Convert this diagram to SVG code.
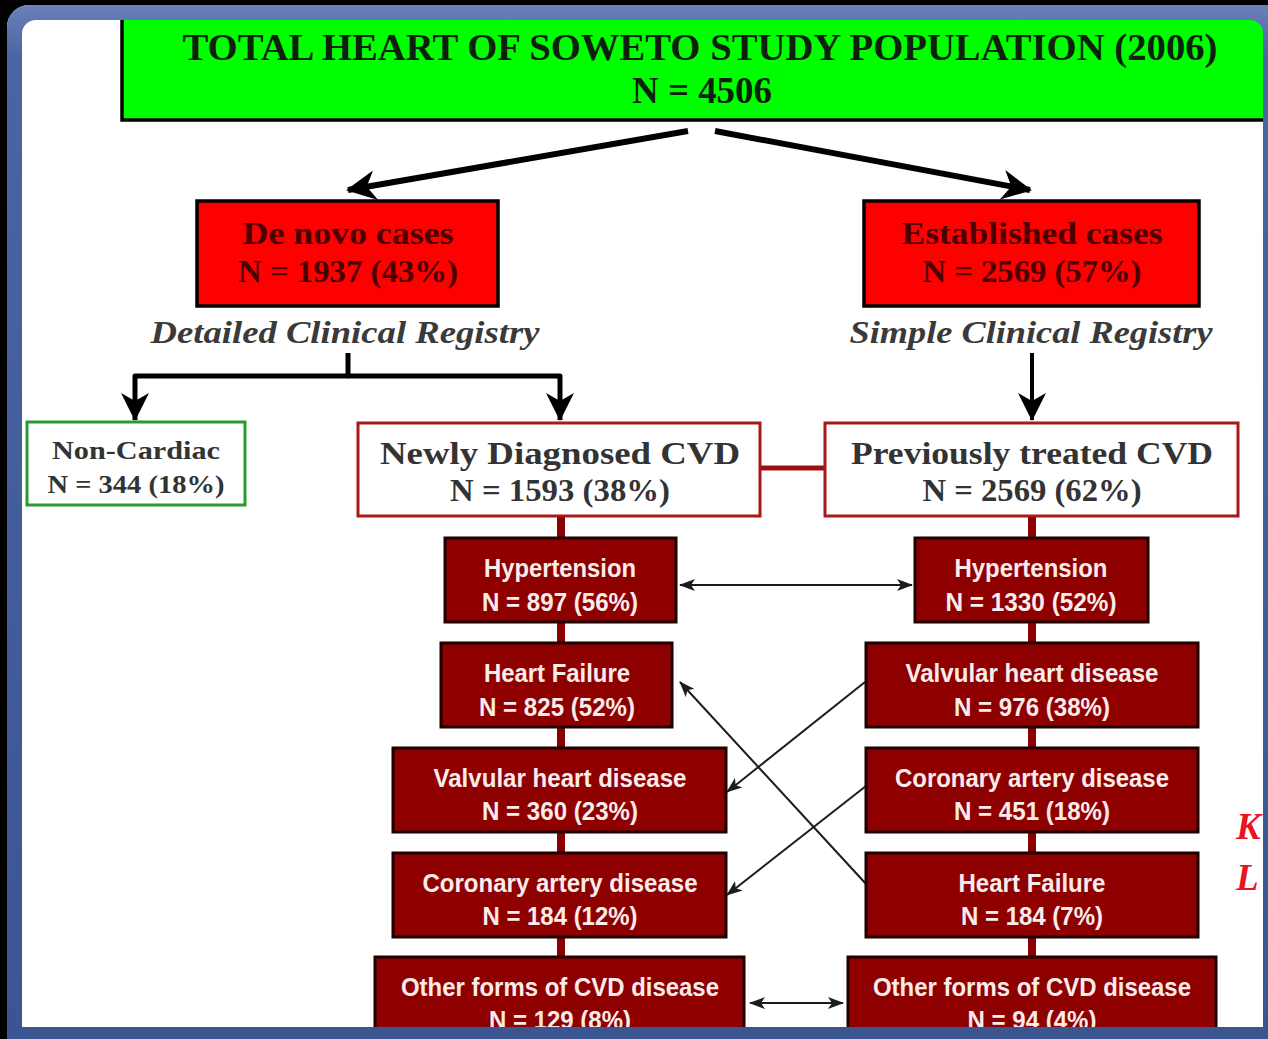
<svg xmlns="http://www.w3.org/2000/svg" width="1268" height="1039" viewBox="0 0 1268 1039">
<defs>
<style>
.serif{font-family:"Liberation Serif","DejaVu Serif",serif;font-weight:bold;text-anchor:middle}
.title{font-size:38px;fill:#0d1f0d}
.red{fill:#ff0000;stroke:#000;stroke-width:3.5}
.redtxt{font-size:31px;fill:#4a0000}
.reg{font-size:31px;font-style:italic;fill:#3a3a3a}
.wbox{fill:#fff;stroke-width:3}
.gray{fill:#333}
.dbox{fill:#8e0000;stroke:#1e0000;stroke-width:3}
.sans{font-family:"Liberation Sans Narrow","Liberation Sans",Arial,sans-serif;font-weight:bold;font-size:26px;fill:#fbecec;text-anchor:middle}
.thin{stroke:#1c1c1c;stroke-width:2;fill:none}
</style>
<marker id="big" markerUnits="userSpaceOnUse" viewBox="0 0 30 30" refX="28" refY="15" markerWidth="30" markerHeight="30" orient="auto"><path d="M0,0 L30,15 L0,30 L9,15 z" fill="#000"/></marker>
<marker id="mid" markerUnits="userSpaceOnUse" viewBox="0 0 28 28" refX="27" refY="14" markerWidth="28" markerHeight="28" orient="auto"><path d="M0,0 L28,14 L0,28 L8,14 z" fill="#000"/></marker>
<marker id="sm" markerUnits="userSpaceOnUse" viewBox="0 0 16 12" refX="15" refY="6" markerWidth="16" markerHeight="12" orient="auto-start-reverse"><path d="M0,0 L16,6 L0,12 L4,6 z" fill="#1c1c1c"/></marker>
<linearGradient id="frame" x1="0" y1="0" x2="0" y2="1"><stop offset="0" stop-color="#6a80b8"/><stop offset="0.05" stop-color="#4a66a2"/><stop offset="1" stop-color="#3a5590"/></linearGradient>
</defs>
<rect x="0" y="0" width="1268" height="1039" fill="#fff"/>

<g id="connectors">
<line x1="561" y1="516" x2="561" y2="1030" stroke="#8b0000" stroke-width="8"/>
<line x1="1032" y1="516" x2="1032" y2="1030" stroke="#8b0000" stroke-width="8"/>
<line x1="760" y1="468" x2="825" y2="468" stroke="#9a1010" stroke-width="5"/>
<line x1="688" y1="131" x2="348" y2="190" stroke="#000" stroke-width="6" marker-end="url(#big)"/>
<line x1="715" y1="131" x2="1030" y2="190" stroke="#000" stroke-width="6" marker-end="url(#big)"/>
<polyline points="348,353 348,376 135,376 135,420" fill="none" stroke="#000" stroke-width="5" stroke-linejoin="round" marker-end="url(#mid)"/>
<polyline points="348,376 560,376 560,420" fill="none" stroke="#000" stroke-width="5" stroke-linejoin="round" marker-end="url(#mid)"/>
<line x1="1032" y1="353" x2="1032" y2="420" stroke="#000" stroke-width="4" marker-end="url(#mid)"/>
<line class="thin" x1="680" y1="585" x2="912" y2="585" marker-start="url(#sm)" marker-end="url(#sm)"/>
<line class="thin" x1="867" y1="885" x2="680" y2="682" marker-end="url(#sm)"/>
<line class="thin" x1="865" y1="682" x2="727" y2="792" marker-end="url(#sm)"/>
<line class="thin" x1="866" y1="786" x2="727" y2="895" marker-end="url(#sm)"/>
<line class="thin" x1="750" y1="1003" x2="843" y2="1003" stroke-width="3" marker-start="url(#sm)" marker-end="url(#sm)"/>
</g>

<g id="total">
<rect x="122" y="16" width="1150" height="104" fill="#00ff00" stroke="#000" stroke-width="3.5"/>
<text class="serif title" x="700" y="60" textLength="1035" lengthAdjust="spacingAndGlyphs">TOTAL HEART OF SOWETO STUDY POPULATION (2006)</text>
<text class="serif title" x="702" y="103" textLength="140" lengthAdjust="spacingAndGlyphs">N = 4506</text>
</g>

<g id="denovo">
<rect class="red" x="197" y="201" width="301" height="105"/>
<text class="serif redtxt" x="348" y="244" textLength="211" lengthAdjust="spacingAndGlyphs">De novo cases</text>
<text class="serif redtxt" x="348" y="282" textLength="220" lengthAdjust="spacingAndGlyphs">N = 1937 (43%)</text>
</g>
<g id="established">
<rect class="red" x="864" y="201" width="335" height="105"/>
<text class="serif redtxt" x="1032" y="244" textLength="261" lengthAdjust="spacingAndGlyphs">Established cases</text>
<text class="serif redtxt" x="1032" y="282" textLength="219" lengthAdjust="spacingAndGlyphs">N = 2569 (57%)</text>
</g>
<g id="detailed-label"><text class="serif reg" x="345" y="343" textLength="389" lengthAdjust="spacingAndGlyphs">Detailed Clinical Registry</text></g>
<g id="simple-label"><text class="serif reg" x="1031" y="343" textLength="363" lengthAdjust="spacingAndGlyphs">Simple Clinical Registry</text></g>

<g id="noncardiac">
<rect class="wbox" x="27" y="422" width="218" height="83" stroke="#2a9a35"/>
<text class="serif gray" x="136" y="459" font-size="26" textLength="168" lengthAdjust="spacingAndGlyphs">Non-Cardiac</text>
<text class="serif gray" x="136" y="493" font-size="26" textLength="177" lengthAdjust="spacingAndGlyphs">N = 344 (18%)</text>
</g>
<g id="newly">
<rect class="wbox" x="358" y="423" width="402" height="93" stroke="#a81818"/>
<text class="serif gray" x="560" y="464" font-size="32" textLength="360" lengthAdjust="spacingAndGlyphs">Newly Diagnosed CVD</text>
<text class="serif gray" x="560" y="501" font-size="32" textLength="220" lengthAdjust="spacingAndGlyphs">N = 1593 (38%)</text>
</g>
<g id="previously">
<rect class="wbox" x="825" y="423" width="413" height="93" stroke="#a81818"/>
<text class="serif gray" x="1032" y="464" font-size="32" textLength="362" lengthAdjust="spacingAndGlyphs">Previously treated CVD</text>
<text class="serif gray" x="1032" y="501" font-size="32" textLength="219" lengthAdjust="spacingAndGlyphs">N = 2569 (62%)</text>
</g>

<g id="l-hyp"><rect class="dbox" x="445" y="538" width="231" height="84"/>
<text class="sans" x="560" y="577" textLength="152" lengthAdjust="spacingAndGlyphs">Hypertension</text>
<text class="sans" x="560" y="611" textLength="156" lengthAdjust="spacingAndGlyphs">N = 897 (56%)</text></g>
<g id="l-hf"><rect class="dbox" x="441" y="643" width="231" height="84"/>
<text class="sans" x="557" y="682" textLength="146" lengthAdjust="spacingAndGlyphs">Heart Failure</text>
<text class="sans" x="557" y="716" textLength="156" lengthAdjust="spacingAndGlyphs">N = 825 (52%)</text></g>
<g id="l-vhd"><rect class="dbox" x="393" y="748" width="333" height="84"/>
<text class="sans" x="560" y="787" textLength="253" lengthAdjust="spacingAndGlyphs">Valvular heart disease</text>
<text class="sans" x="560" y="820" textLength="156" lengthAdjust="spacingAndGlyphs">N = 360 (23%)</text></g>
<g id="l-cad"><rect class="dbox" x="393" y="853" width="333" height="84"/>
<text class="sans" x="560" y="892" textLength="275" lengthAdjust="spacingAndGlyphs">Coronary artery disease</text>
<text class="sans" x="560" y="925" textLength="155" lengthAdjust="spacingAndGlyphs">N = 184 (12%)</text></g>
<g id="l-other"><rect class="dbox" x="375" y="957" width="369" height="90"/>
<text class="sans" x="560" y="996" textLength="318" lengthAdjust="spacingAndGlyphs">Other forms of CVD disease</text>
<text class="sans" x="560" y="1029" textLength="142" lengthAdjust="spacingAndGlyphs">N = 129 (8%)</text></g>

<g id="r-hyp"><rect class="dbox" x="915" y="538" width="233" height="84"/>
<text class="sans" x="1031" y="577" textLength="153" lengthAdjust="spacingAndGlyphs">Hypertension</text>
<text class="sans" x="1031" y="611" textLength="171" lengthAdjust="spacingAndGlyphs">N = 1330 (52%)</text></g>
<g id="r-vhd"><rect class="dbox" x="866" y="643" width="332" height="84"/>
<text class="sans" x="1032" y="682" textLength="253" lengthAdjust="spacingAndGlyphs">Valvular heart disease</text>
<text class="sans" x="1032" y="716" textLength="156" lengthAdjust="spacingAndGlyphs">N = 976 (38%)</text></g>
<g id="r-cad"><rect class="dbox" x="866" y="748" width="332" height="84"/>
<text class="sans" x="1032" y="787" textLength="274" lengthAdjust="spacingAndGlyphs">Coronary artery disease</text>
<text class="sans" x="1032" y="820" textLength="156" lengthAdjust="spacingAndGlyphs">N = 451 (18%)</text></g>
<g id="r-hf"><rect class="dbox" x="866" y="853" width="332" height="84"/>
<text class="sans" x="1032" y="892" textLength="147" lengthAdjust="spacingAndGlyphs">Heart Failure</text>
<text class="sans" x="1032" y="925" textLength="142" lengthAdjust="spacingAndGlyphs">N = 184 (7%)</text></g>
<g id="r-other"><rect class="dbox" x="848" y="957" width="368" height="90"/>
<text class="sans" x="1032" y="996" textLength="318" lengthAdjust="spacingAndGlyphs">Other forms of CVD disease</text>
<text class="sans" x="1032" y="1029" textLength="129" lengthAdjust="spacingAndGlyphs">N = 94 (4%)</text></g>

<g id="side-text" font-family="'Liberation Serif',serif" font-weight="bold" font-style="italic" font-size="37" fill="#e8141e">
<text x="1236" y="839">K</text>
<text x="1236" y="890">L</text>
</g>

<g id="frame">
<path fill-rule="evenodd" fill="#000" d="M0,0 H1268 V1039 H0 Z M29,5 H1268 V1039 H7 V27 A22,22 0 0 1 29,5 Z"/>
<path fill-rule="evenodd" fill="url(#frame)" d="M29,5 H1268 V1039 H7 V27 A22,22 0 0 1 29,5 Z M36,20 H1250 A13,13 0 0 1 1263,33 V1027 H22 V34 A14,14 0 0 1 36,20 Z"/>
</g>
</svg>
